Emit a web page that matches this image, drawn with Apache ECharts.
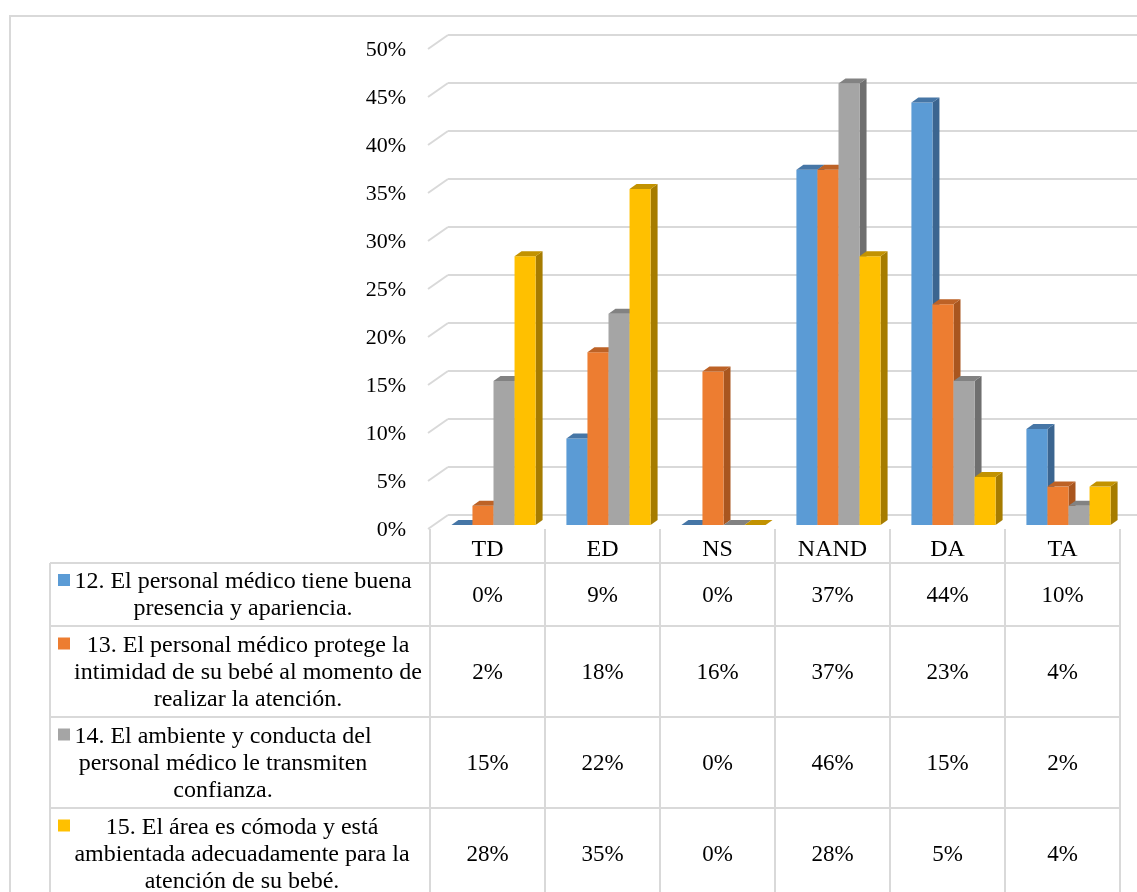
<!DOCTYPE html>
<html>
<head>
<meta charset="utf-8">
<script src="https://cdn.jsdelivr.net/npm/echarts@6/dist/echarts.min.js"></script>
<style>
html,body{margin:0;padding:0;background:#fff;}
#chart{width:1137px;height:892px;}
</style>
</head>
<body>
<div id="chart"></div>
<script>
// ---- data ----
const categories = ['TD', 'ED', 'NS', 'NAND', 'DA', 'TA'];
const seriesNames = [
  '12. El personal médico tiene buena\npresencia y apariencia.',
  '13. El personal médico protege la\nintimidad de su bebé al momento de\nrealizar la atención.',
  '14. El ambiente y conducta del\npersonal médico le transmiten\nconfianza.',
  '15. El área es cómoda y está\nambientada adecuadamente para la\natención de su bebé.'
];
const s12 = [0, 9, 0, 37, 44, 10];
const s13 = [2, 18, 16, 37, 23, 4];
const s14 = [15, 22, 0, 46, 15, 2];
const s15 = [28, 35, 0, 28, 5, 4];
const yTicks = [0, 5, 10, 15, 20, 25, 30, 35, 40, 45, 50];

// ---- styling ----
const seriesValues = [s12, s13, s14, s15];
const front = ['#5B9BD5', '#ED7D31', '#A5A5A5', '#FFC000'];
const side = ['#3B6590', '#A9561F', '#6F6F6F', '#A67C00'];
const topc = ['#4676A6', '#BD6226', '#828282', '#C29200'];
const FONT = "'Liberation Serif', 'Times New Roman', serif";
const LINE = '#d9d9d9';
const TXT = '#000000';

const chart = echarts.init(document.getElementById('chart'), null, {renderer: 'canvas'});

function barSeries(k) {
  return {
    type: 'custom',
    name: seriesNames[k],
    xAxisIndex: 0, yAxisIndex: 0,
    z: 3 + k,
    data: categories.map((c, i) => [i, seriesValues[k][i]]),
    renderItem: function (params, api) {
      const ci = api.value(0), v = api.value(1);
      const base = api.coord([ci, 0]);
      const tp = api.coord([ci, v]);
      const band = api.size([1, 0])[0];
      const bw = band * 0.183;
      const x0 = base[0] - 2 * bw + k * bw;
      const x1 = x0 + bw;
      const dx = 7, dy = 5;
      const yt = tp[1], yb = base[1];
      return {
        type: 'group',
        children: [
          {type: 'polygon', shape: {points: [[x1, yt], [x1 + dx, yt - dy], [x1 + dx, yb - dy], [x1, yb]]}, style: {fill: side[k]}},
          {type: 'rect', shape: {x: x0, y: yt, width: bw, height: yb - yt}, style: {fill: front[k]}},
          {type: 'polygon', shape: {points: [[x0, yt], [x0 + dx, yt - dy], [x1 + dx, yt - dy], [x1, yt]]}, style: {fill: topc[k]}}
        ]
      };
    }
  };
}

// ---- table graphics ----
const colLeft = 430, colW = 115, nCols = categories.length;
const tableRight = colLeft + colW * nCols;
const headerTop = 529, rowTops = [563, 626, 717, 808, 899];
const legendCx = [243, 248, 223, 242];
const graphics = [];
// outer chart border
graphics.push({type: 'polyline', shape: {points: [[10, 900], [10, 16], [1140, 16]]}, style: {stroke: LINE, lineWidth: 2, fill: null}, silent: true});
// vertical column lines
for (let i = 0; i <= nCols; i++) {
  graphics.push({type: 'line', shape: {x1: colLeft + colW * i, y1: headerTop, x2: colLeft + colW * i, y2: 900}, style: {stroke: LINE, lineWidth: 2}});
}
// left table border
graphics.push({type: 'line', shape: {x1: 50, y1: rowTops[0], x2: 50, y2: 900}, style: {stroke: LINE, lineWidth: 2}});
// horizontal row lines
for (let r = 0; r < rowTops.length; r++) {
  graphics.push({type: 'line', shape: {x1: 50, y1: rowTops[r], x2: tableRight, y2: rowTops[r]}, style: {stroke: LINE, lineWidth: 2}});
}
// header category labels
categories.forEach((c, i) => {
  graphics.push({type: 'text', x: colLeft + colW * (i + 0.5), y: (headerTop + rowTops[0]) / 2 + 4,
    style: {text: c, fontSize: 24, fontFamily: FONT, fill: TXT, align: 'center', verticalAlign: 'middle'}});
});
// rows
seriesValues.forEach((vals, r) => {
  const cy = (rowTops[r] + rowTops[r + 1]) / 2;
  const nLines = seriesNames[r].split('\n').length;
  const firstLineY = cy - (nLines - 1) * 27 / 2;
  graphics.push({type: 'rect', shape: {x: 58, y: firstLineY - 7, width: 12, height: 12}, style: {fill: front[r]}});
  graphics.push({type: 'text', x: legendCx[r], y: cy + 1,
    style: {text: seriesNames[r], fontSize: 24, lineHeight: 27, fontFamily: FONT, fill: TXT, align: 'center', verticalAlign: 'middle'}});
  vals.forEach((v, i) => {
    graphics.push({type: 'text', x: colLeft + colW * (i + 0.5), y: cy + 1,
      style: {text: v + '%', fontSize: 23, fontFamily: FONT, fill: TXT, align: 'center', verticalAlign: 'middle'}});
  });
});

const option = {
  animation: false,
  backgroundColor: '#ffffff',
  grid: [
    {left: 436, width: 690, top: 45, height: 480},          // bars (front plane)
    {left: 448, right: 0, top: 35, height: 480},             // back wall
    {left: 428, width: 1, top: 50, height: 480}              // tick labels
  ],
  xAxis: [
    {gridIndex: 0, type: 'category', data: categories, show: false},
    {gridIndex: 1, type: 'value', min: 0, max: 1, show: false},
    {gridIndex: 2, type: 'value', min: 0, max: 1, show: false}
  ],
  yAxis: [
    {gridIndex: 0, type: 'value', min: 0, max: 50, interval: 5, show: false},
    {gridIndex: 1, type: 'value', min: 0, max: 50, interval: 5,
      axisLine: {show: false}, axisTick: {show: false}, axisLabel: {show: false},
      splitLine: {show: true, lineStyle: {color: LINE, width: 2}}},
    {gridIndex: 2, type: 'value', min: 0, max: 50, interval: 5,
      axisLine: {show: false}, axisTick: {show: false}, splitLine: {show: false},
      axisLabel: {show: true, formatter: '{value}%', margin: 22, fontSize: 22, fontFamily: FONT, color: TXT}}
  ],
  series: [
    {
      type: 'custom', xAxisIndex: 1, yAxisIndex: 1, z: 1, silent: true,
      data: yTicks.map(v => [0, v]),
      renderItem: function (params, api) {
        const p = api.coord([0, api.value(1)]);
        return {type: 'line', shape: {x1: p[0] - 20, y1: p[1] + 14, x2: p[0], y2: p[1]}, style: {stroke: LINE, lineWidth: 2}};
      }
    },
    barSeries(0), barSeries(1), barSeries(2), barSeries(3)
  ],
  graphic: graphics
};
chart.setOption(option);
</script>
</body>
</html>
